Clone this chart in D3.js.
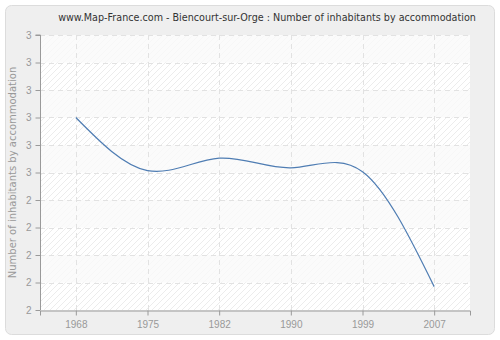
<!DOCTYPE html>
<html>
<head>
<meta charset="utf-8">
<script src="https://cdn.jsdelivr.net/npm/d3@7"></script>
<style>
  body { margin: 0; background: #fff; }
  svg { display: block; font-family: "DejaVu Sans", sans-serif; }
</style>
</head>
<body>
<svg id="chart"></svg>
<script>
const years = ['1968', '1975', '1982', '1990', '1999', '2007'];
const values = [2.70, 2.507, 2.552, 2.517, 2.503, 2.085];
const yTicks = [2.0, 2.1, 2.2, 2.3, 2.4, 2.5, 2.6, 2.7, 2.8, 2.9, 3.0];

const W = 500, H = 340;
const margin = { top: 35, right: 30, bottom: 30, left: 40 };

const svg = d3.select('#chart').attr('width', W).attr('height', H);

const defs = svg.append('defs');
const pat = defs.append('pattern')
    .attr('id', 'hatch')
    .attr('patternUnits', 'userSpaceOnUse')
    .attr('width', 6).attr('height', 6);
pat.append('rect').attr('width', 6).attr('height', 6).attr('fill', '#ffffff');
pat.append('path')
    .attr('d', 'M-1,7 L7,-1 M-1,1 L1,-1 M5,7 L7,5')
    .attr('stroke', '#ececec')
    .attr('stroke-width', 1);

// outer panel
svg.append('rect')
    .attr('x', 5.5).attr('y', 5.5)
    .attr('width', W - 11).attr('height', H - 11)
    .attr('rx', 6)
    .attr('fill', '#efefef')
    .attr('stroke', '#dcdcdc');

const x = d3.scalePoint()
    .domain(years)
    .range([margin.left, W - margin.right])
    .padding(0.5);

const y = d3.scaleLinear()
    .domain([2, 3])
    .range([H - margin.bottom, margin.top]);

// plot background
svg.append('rect')
    .attr('x', margin.left).attr('y', margin.top)
    .attr('width', W - margin.right - margin.left)
    .attr('height', H - margin.bottom - margin.top)
    .attr('fill', 'url(#hatch)');

// alternating bands
svg.append('g').selectAll('rect')
    .data(yTicks.slice(0, -1).filter((d, i) => i % 2 === 1))
    .enter().append('rect')
    .attr('x', margin.left)
    .attr('width', W - margin.right - margin.left)
    .attr('y', d => y(d + 0.1))
    .attr('height', d => y(d) - y(d + 0.1))
    .attr('fill', '#fafafa')
    .attr('opacity', 0.8);

// grid
svg.append('g').selectAll('line')
    .data(yTicks.slice(1))
    .enter().append('line')
    .attr('x1', margin.left).attr('x2', W - margin.right)
    .attr('y1', d => Math.round(y(d)) + 0.5).attr('y2', d => Math.round(y(d)) + 0.5)
    .attr('stroke', '#e2e2e2')
    .attr('stroke-dasharray', '5,4');

svg.append('g').selectAll('line')
    .data(years)
    .enter().append('line')
    .attr('x1', d => Math.round(x(d)) + 0.5).attr('x2', d => Math.round(x(d)) + 0.5)
    .attr('y1', margin.top).attr('y2', H - margin.bottom)
    .attr('stroke', '#e2e2e2')
    .attr('stroke-dasharray', '5,4');

// axes
const yAxis = d3.axisLeft(y)
    .tickValues(yTicks)
    .tickFormat(d => d3.format('.0f')(d))
    .tickSize(5)
    .tickPadding(4);

const xAxis = d3.axisBottom(x)
    .tickSize(5)
    .tickPadding(5);

const gy = svg.append('g')
    .attr('transform', `translate(${margin.left + 0.5},0)`)
    .call(yAxis);

const gx = svg.append('g')
    .attr('transform', `translate(0,${H - margin.bottom + 0.5})`)
    .call(xAxis);

[gx, gy].forEach(g => {
    g.select('.domain').attr('stroke', '#9a9a9a');
    g.selectAll('.tick line').attr('stroke', '#9a9a9a');
    g.selectAll('.tick text')
        .attr('fill', '#999')
        .style('font-size', '10px');
});
gy.select('.domain').attr('d', `M-5,${margin.top}H0V${H - margin.bottom}`);

// line
const line = d3.line()
    .x((d, i) => x(years[i]))
    .y(d => y(d))
    .curve(d3.curveNatural);

svg.append('path')
    .datum(values)
    .attr('fill', 'none')
    .attr('stroke', '#4f7db3')
    .attr('stroke-width', 1.2)
    .attr('d', line);

// title
svg.append('text')
    .attr('x', 267)
    .attr('y', 21)
    .attr('text-anchor', 'middle')
    .attr('fill', '#333')
    .style('font-size', '9.6px')
    .text('www.Map-France.com - Biencourt-sur-Orge : Number of inhabitants by accommodation');

// y label
svg.append('text')
    .attr('transform', `translate(16,${(margin.top + H - margin.bottom) / 2}) rotate(-90)`)
    .attr('text-anchor', 'middle')
    .attr('fill', '#999')
    .style('font-size', '10px')
    .text('Number of inhabitants by accommodation');
</script>
</body>
</html>
